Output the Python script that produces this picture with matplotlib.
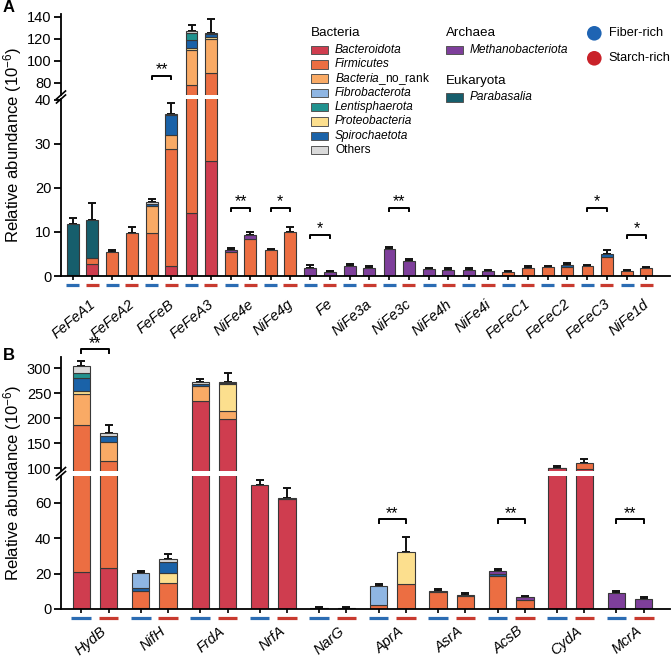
import numpy as np
import matplotlib.pyplot as plt
from matplotlib.patches import Rectangle, Circle
from matplotlib.transforms import blended_transform_factory

plt.rcParams['font.family'] = ['Liberation Sans', 'DejaVu Sans']
plt.rcParams['mathtext.fontset'] = 'custom'
plt.rcParams['mathtext.rm'] = 'Liberation Sans'
plt.rcParams['mathtext.it'] = 'Liberation Sans:italic'

# stacking order, bottom to top
taxa = ['Bacteroidota', 'Firmicutes', 'Bacteria_no_rank', 'Proteobacteria', 'Spirochaetota',
        'Fibrobacterota', 'Lentisphaerota', 'Methanobacteriota', 'Parabasalia', 'Others']
colors = {'Bacteroidota': '#cf3d4f', 'Firmicutes': '#ec6e42', 'Bacteria_no_rank': '#f9aa65',
          'Proteobacteria': '#fcdf8e', 'Spirochaetota': '#1a62a8', 'Fibrobacterota': '#8fb6e3',
          'Lentisphaerota': '#21928f', 'Methanobacteriota': '#7e3f9b', 'Parabasalia': '#165e6c',
          'Others': '#d9d9d9'}

# ---- panel A: hydrogenases ----
genes_a = ['FeFeA1', 'FeFeA2', 'FeFeB', 'FeFeA3', 'NiFe4e', 'NiFe4g', 'Fe', 'NiFe3a', 'NiFe3c',
           'NiFe4h', 'NiFe4i', 'FeFeC1', 'FeFeC2', 'FeFeC3', 'NiFe1d']
a_fiber = {
    'Bacteroidota':      [0.3, 0, 0.3, 14.4, 0, 0, 0, 0, 0, 0, 0, 0, 0, 0, 0],
    'Firmicutes':        [0, 5.5, 9.5, 63.2, 5.5, 5.9, 0, 0, 0, 0, 0, 1.0, 2.05, 2.35, 1.05],
    'Bacteria_no_rank':  [0, 0, 6.0, 32.1, 0, 0, 0, 0, 0, 0, 0, 0, 0, 0, 0],
    'Proteobacteria':    [0, 0, 0, 1.6, 0, 0, 0, 0, 0, 0, 0, 0, 0, 0, 0],
    'Spirochaetota':     [0, 0, 0.5, 7.5, 0, 0, 0, 0, 0, 0, 0, 0, 0, 0, 0],
    'Lentisphaerota':    [0, 0, 0, 6.7, 0, 0, 0, 0, 0, 0, 0, 0, 0, 0, 0],
    'Methanobacteriota': [0, 0, 0, 0, 0.5, 0, 1.9, 2.3, 6.1, 1.5, 1.35, 0, 0, 0, 0],
    'Parabasalia':       [11.6, 0, 0, 0, 0, 0, 0, 0, 0, 0, 0, 0, 0, 0, 0],
    'Others':            [0, 0, 0.5, 1.5, 0, 0, 0, 0, 0, 0, 0, 0, 0, 0, 0],
}
a_starch = {
    'Bacteroidota':      [2.7, 0, 2.3, 26.2, 0, 0, 0, 0, 0, 0, 0, 0, 0, 0, 0],
    'Firmicutes':        [1.4, 9.8, 26.5, 62.3, 8.5, 10.1, 0, 0, 0, 0, 0, 1.8, 2.0, 4.4, 1.75],
    'Bacteria_no_rank':  [0, 0, 3.2, 31.2, 0, 0, 0, 0, 0, 0, 0, 0, 0, 0, 0],
    'Proteobacteria':    [0, 0, 0, 1.6, 0, 0, 0, 0, 0, 0, 0, 0, 0, 0, 0],
    'Spirochaetota':     [0, 0, 4.6, 2.7, 0, 0, 0, 0, 0, 0, 0, 0, 0.5, 0.7, 0],
    'Methanobacteriota': [0, 0, 0, 0, 0.8, 0, 0.9, 1.8, 3.4, 1.45, 1.05, 0, 0, 0, 0],
    'Parabasalia':       [8.7, 0, 0, 0, 0, 0, 0, 0, 0, 0, 0, 0, 0, 0, 0],
    'Others':            [0, 0, 0.3, 1.5, 0, 0, 0, 0, 0, 0, 0, 0, 0, 0, 0],
}
a_fiber_err = [1.3, 0.5, 0.7, 5.2, 0.4, 0.3, 0.5, 0.35, 0.6, 0.4, 0.4, 0.2, 0.25, 0.2, 0.2]
a_starch_err = [3.8, 1.4, 2.3, 12.4, 0.7, 1.1, 0.2, 0.5, 0.5, 0.35, 0.25, 0.5, 0.4, 0.7, 0.25]
a_sig_genes = ['FeFeB', 'NiFe4e', 'NiFe4g', 'Fe', 'NiFe3c', 'FeFeC3', 'NiFe1d']
a_sig_stars = ['**', '**', '*', '*', '**', '*', '*']
a_sig_level = [86, 15.4, 15.4, 9.3, 15.4, 15.4, 9.3]

# ---- panel B: other marker genes ----
genes_b = ['HydB', 'NifH', 'FrdA', 'NrfA', 'NarG', 'AprA', 'AsrA', 'AcsB', 'CydA', 'McrA']
b_fiber = {
    'Bacteroidota':      [20.7, 0.5, 234.2, 69.9, 0, 0, 0, 0, 100, 0],
    'Firmicutes':        [165.0, 9.8, 0, 0, 0.5, 2.0, 9.5, 18.6, 1.5, 0],
    'Bacteria_no_rank':  [61.9, 0, 30.5, 0, 0, 0, 0, 0, 0, 0],
    'Proteobacteria':    [7.1, 0, 0, 0, 0, 0, 0, 0, 0, 0],
    'Spirochaetota':     [24.8, 1.3, 3.5, 0, 0, 0, 0.4, 0.9, 0, 0],
    'Fibrobacterota':    [0, 8.5, 0, 0, 0, 11.0, 0, 0, 0, 0],
    'Lentisphaerota':    [9.9, 0, 0, 0, 0, 0, 0, 0, 0, 0],
    'Methanobacteriota': [0, 0, 0, 0, 0, 0, 0, 1.9, 0, 8.8],
    'Others':            [15.2, 0, 3.3, 0, 0, 0, 0, 0, 0, 0],
}
b_starch = {
    'Bacteroidota':      [23.3, 0, 197.7, 62.0, 0, 0, 0, 0, 99, 0],
    'Firmicutes':        [90.7, 14.5, 0, 0, 0.4, 13.9, 7.3, 5.1, 11, 0],
    'Bacteria_no_rank':  [39.0, 0, 16.6, 0, 0, 0, 0, 0, 0, 0],
    'Proteobacteria':    [0, 5.6, 53.7, 0, 0, 18.4, 0, 0, 0, 0],
    'Spirochaetota':     [12.0, 6.6, 2.5, 0.8, 0, 0, 0, 0, 0, 0],
    'Lentisphaerota':    [0, 0, 0, 0, 0, 0, 0.6, 0, 0, 0],
    'Methanobacteriota': [0, 0, 0, 0, 0, 0, 0, 1.5, 0, 5.6],
    'Others':            [5.0, 1.3, 1.5, 0, 0, 0, 0, 0, 0, 0],
}
b_fiber_err = [9.9, 1.5, 6.5, 2.8, 0.4, 1.1, 1.3, 1.3, 3.0, 1.3]
b_starch_err = [16.0, 3.0, 17.4, 5.2, 0.5, 8.1, 1.3, 0.6, 9.0, 1.2]
b_sig_genes = ['HydB', 'AprA', 'AcsB', 'McrA']
b_sig_stars = ['**', '**', '**', '**']
b_sig_level = [337, 50.5, 50.5, 50.5]

W, H = 672, 658
fig = plt.figure(figsize=(W / 100, H / 100), dpi=100)


def px_axes(left, top, right, bottom):
    return fig.add_axes([left / W, 1 - bottom / H, (right - left) / W, (bottom - top) / H])


def draw_bars(ax, genes, fiber, starch, fiber_err, starch_err, off, width):
    x = np.arange(len(genes))
    for xs, data, err in [(x - off, fiber, fiber_err), (x + off, starch, starch_err)]:
        bottom = np.zeros(len(genes))
        for t in taxa:
            if t not in data:
                continue
            vals = np.array(data[t], float)
            m = vals > 0
            ax.bar(xs[m], vals[m], width, bottom=bottom[m], color=colors[t],
                   edgecolor='#383838', linewidth=0.8, zorder=2)
            bottom += vals
        ax.errorbar(xs, bottom, yerr=[np.zeros(len(genes)), err], fmt='none', ecolor='#111111',
                    elinewidth=1.4, capsize=2.6, capthick=1.4, zorder=1)


def style_axes(ax, top_part):
    for s in ['top', 'right']:
        ax.spines[s].set_visible(False)
    ax.spines['left'].set_linewidth(1.3)
    ax.spines['bottom'].set_linewidth(1.3)
    ax.tick_params(axis='y', length=5, width=1.3, labelsize=10.5, pad=2)
    if top_part:
        ax.spines['bottom'].set_visible(False)
        ax.tick_params(axis='x', bottom=False, labelbottom=False)


def bottom_decor(ax, genes, off, ul_width, ax_h, label_dx, label_dy):
    x = np.arange(len(genes))
    ax.set_xticks(np.concatenate([x - off, x + off]))
    ax.tick_params(axis='x', length=3, width=1.2, labelbottom=False)
    tr = blended_transform_factory(ax.transData, ax.transAxes)
    yy = -8.5 / ax_h
    for xs, c in [(x - off, '#2b6cb3'), (x + off, '#c83a2f')]:
        for xi in xs:
            ax.plot([xi - ul_width / 2, xi + ul_width / 2], [yy, yy], color=c, lw=2.3,
                    transform=tr, clip_on=False, solid_capstyle='butt')
    for xi, g in zip(x, genes):
        ax.text(xi + label_dx, -label_dy / ax_h, g, transform=tr, rotation=40,
                rotation_mode='anchor', ha='right', va='top', style='italic', fontsize=10.5)


def sig(ax_low, ax_up, genes, sgenes, stars, levels, off):
    for g, s, lv in zip(sgenes, stars, levels):
        ax = ax_up if lv > ax_low.get_ylim()[1] else ax_low
        y0, y1 = ax.get_ylim()
        drop = 3.3 * (y1 - y0) / (ax.get_window_extent().height)
        xi = genes.index(g)
        ax.plot([xi - off, xi - off, xi + off, xi + off], [lv - drop, lv, lv, lv - drop],
                color='black', lw=1.4, clip_on=False, zorder=5)
        ax.annotate(s, (xi, lv), xytext=(0, -1), textcoords='offset points', ha='center',
                    va='bottom', fontsize=11.5, annotation_clip=False)


# panel A
offA, widA = 0.244, 0.30
axA_up = px_axes(61, 14, 670, 95)
axA_lo = px_axes(61, 99, 670, 276)
for ax in (axA_up, axA_lo):
    draw_bars(ax, genes_a, a_fiber, a_starch, a_fiber_err, a_starch_err, offA, widA)
    ax.set_xlim(-0.54, 14.84)
axA_up.set_ylim(68.8, 142.5)
axA_up.set_yticks([80, 100, 120, 140])
axA_lo.set_ylim(0, 40.2)
axA_lo.set_yticks([0, 10, 20, 30, 40])
style_axes(axA_up, True)
style_axes(axA_lo, False)
bottom_decor(axA_lo, genes_a, offA, 0.33, 177, 0.16, 21)
sig(axA_lo, axA_up, genes_a, a_sig_genes, a_sig_stars, a_sig_level, offA)

# panel B
offB, widB = 0.23, 0.29
axB_up = px_axes(61, 357, 670, 471)
axB_lo = px_axes(61, 476, 670, 609)
for ax in (axB_up, axB_lo):
    draw_bars(ax, genes_b, b_fiber, b_starch, b_fiber_err, b_starch_err, offB, widB)
    ax.set_xlim(-0.57, 9.67)
axB_up.set_ylim(94.6, 322)
axB_up.set_yticks([100, 150, 200, 250, 300])
axB_lo.set_ylim(0, 75)
axB_lo.set_yticks([0, 20, 40, 60])
style_axes(axB_up, True)
style_axes(axB_lo, False)
bottom_decor(axB_lo, genes_b, offB, 0.33, 133, 0.09, 15)
sig(axB_lo, axB_up, genes_b, b_sig_genes, b_sig_stars, b_sig_level, offB)

# overlay in pixel coordinates for legend, labels, axis breaks
ov = fig.add_axes([0, 0, 1, 1], zorder=10)
ov.set_xlim(0, W)
ov.set_ylim(H, 0)
ov.axis('off')

ov.text(3, 8, 'A', fontsize=12, fontweight='bold', va='center')
ov.text(3, 355, 'B', fontsize=12, fontweight='bold', va='center')
ov.text(13, 145, 'Relative abundance (10$^{-6}$)', rotation=90, ha='center', va='center', fontsize=12)
ov.text(13, 483, 'Relative abundance (10$^{-6}$)', rotation=90, ha='center', va='center', fontsize=12)

for yb in (97, 473.5):
    for d in (-2, 2):
        ov.plot([56.5, 65.5], [yb + d + 4, yb + d - 4], color='black', lw=1.2)

legend_bac = ['Bacteroidota', 'Firmicutes', 'Bacteria_no_rank', 'Fibrobacterota',
              'Lentisphaerota', 'Proteobacteria', 'Spirochaetota', 'Others']


def leg_item(x, y, taxon, label, italic=True):
    ov.add_patch(Rectangle((x, y - 4.3), 17, 8.6, facecolor=colors[taxon],
                           edgecolor='#555555', lw=0.7))
    ov.text(x + 24, y, label, va='center', fontsize=8.6, style='italic' if italic else 'normal')


ov.text(311, 33, 'Bacteria', va='center', fontsize=9.6)
for i, t in enumerate(legend_bac):
    y = 50 + i * 14.3
    if t == 'Bacteria_no_rank':
        leg_item(311, y, t, r'$\mathit{Bacteria}$_no_rank', italic=False)
    else:
        leg_item(311, y, t, t, italic=(t != 'Others'))
ov.text(445.7, 33, 'Archaea', va='center', fontsize=9.6)
leg_item(445.7, 50, 'Methanobacteriota', 'Methanobacteriota')
ov.text(445.7, 80.7, 'Eukaryota', va='center', fontsize=9.6)
leg_item(445.7, 97.3, 'Parabasalia', 'Parabasalia')

for y, c, lab in [(33.3, '#1f64b3', 'Fiber-rich'), (58.3, '#c92229', 'Starch-rich')]:
    ov.add_patch(Circle((594.3, y), 7.3, facecolor=c, edgecolor='none'))
    ov.text(608.5, y, lab, va='center', fontsize=9.2)

fig.savefig('out.png', dpi=100)
